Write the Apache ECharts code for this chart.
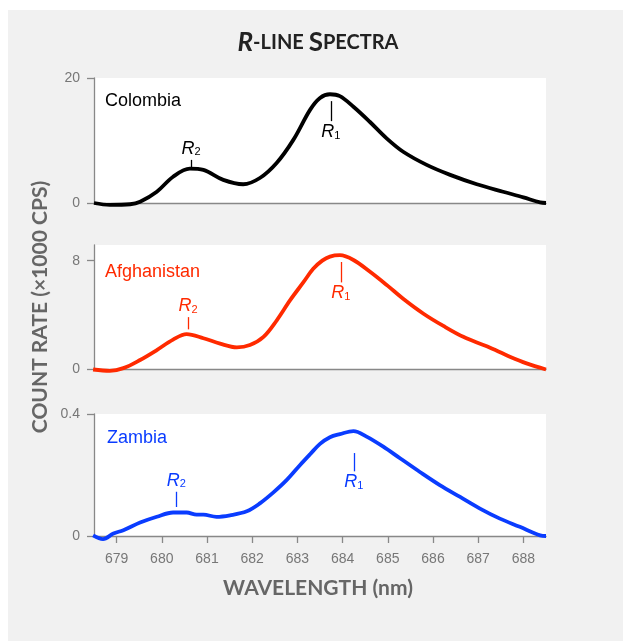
<!DOCTYPE html>
<html>
<head>
<meta charset="utf-8">
<script src="https://cdn.jsdelivr.net/npm/echarts@6/dist/echarts.min.js"></script>
<style>
html,body{margin:0;padding:0;background:#fff;}
#c{width:623px;height:641px;}
</style>
</head>
<body>
<div id="c"></div>
<script>
// ---- data ----
const colombiaX = [678.5, 678.85, 679.3, 679.52, 679.89, 680.25, 680.62, 680.92, 681.36, 681.8, 682.17, 682.54, 682.91, 683.28, 683.5, 683.72, 683.94, 684.24, 684.6, 684.98, 685.34, 685.86, 686.38, 686.97, 687.55, 688.0, 688.37, 688.5];
const colombiaY = [0, -0.3, -0.2, 0.2, 1.8, 4.2, 5.5, 5.3, 3.7, 3.0, 4.0, 6.4, 10.1, 14.9, 16.8, 17.4, 17.1, 15.4, 13.0, 10.3, 8.2, 6.1, 4.5, 3.0, 1.8, 0.9, 0.1, 0];

const afghanX = [678.48, 678.85, 679.15, 679.52, 679.89, 680.25, 680.55, 680.92, 681.29, 681.66, 681.95, 682.25, 682.54, 682.84, 683.13, 683.35, 683.55, 683.72, 683.94, 684.24, 684.6, 684.98, 685.34, 685.79, 686.23, 686.67, 687.19, 687.7, 688.07, 688.5];
const afghanY = [0, -0.1, 0.1, 0.7, 1.43, 2.2, 2.6, 2.3, 1.9, 1.63, 1.8, 2.4, 3.6, 5.1, 6.4, 7.4, 8.0, 8.3, 8.4, 8.05, 7.2, 6.2, 5.2, 4.1, 3.2, 2.4, 1.7, 0.94, 0.45, 0];

const zambiaX = [678.48, 678.7, 678.93, 679.15, 679.52, 679.89, 680.25, 680.55, 680.77, 680.92, 681.21, 681.51, 681.88, 682.17, 682.47, 682.76, 683.06, 683.28, 683.5, 683.72, 683.94, 684.24, 684.53, 684.9, 685.27, 685.71, 686.15, 686.6, 687.04, 687.48, 687.92, 688.37, 688.5];
const zambiaY = [0.002, -0.01, 0.008, 0.019, 0.044, 0.063, 0.077, 0.077, 0.07, 0.07, 0.063, 0.068, 0.081, 0.107, 0.143, 0.183, 0.233, 0.268, 0.302, 0.324, 0.334, 0.344, 0.326, 0.293, 0.255, 0.21, 0.167, 0.128, 0.09, 0.057, 0.03, 0.002, 0];

const xTicks = [679, 680, 681, 682, 683, 684, 685, 686, 687, 688];
const yTicksColombia = [0, 20];
const yTicksAfghan = [0, 8];
const yTicksZambia = [0, 0.4];

const panelNames = ['Colombia', 'Afghanistan', 'Zambia'];
const panelColors = ['#000000', '#ff2a00', '#0a3cff'];

// peak markers: [wavelength, tickStart, tickEnd] (label placed beyond tickEnd)
const r2Colombia = [680.65, 5.7, 6.9];
const r1Colombia = [683.74, 16.3, 13.1];
const r2Afghan = [680.58, 2.95, 3.85];
const r1Afghan = [683.96, 7.9, 6.4];
const r2Zambia = [680.32, 0.095, 0.145];
const r1Zambia = [684.25, 0.272, 0.212];

// ---- chart ----
const chart = echarts.init(document.getElementById('c'), null, {renderer: 'canvas'});
const FONT = 'Liberation Sans';
const AXC = '#888';
const LAB = '#777';

const grids = [
  {left: 94, top: 78, width: 452, height: 125},
  {left: 94, top: 245, width: 452, height: 124.5},
  {left: 94, top: 414, width: 452, height: 122}
].map(g => Object.assign(g, {show: true, backgroundColor: '#fff', borderWidth: 0, containLabel: false}));

function xAxis(i, bottom) {
  return {
    type: 'value', gridIndex: i, min: 678.5, max: 688.5,
    axisLine: {show: true, onZero: false, lineStyle: {color: AXC, width: 1.3}},
    axisTick: bottom ? {show: true, length: 7, customValues: xTicks, lineStyle: {color: AXC, width: 1.3}} : {show: false},
    axisLabel: bottom ? {show: true, customValues: xTicks, margin: 16, color: LAB, fontSize: 14, fontFamily: FONT} : {show: false},
    splitLine: {show: false}
  };
}
function yAxis(i, max, ticks, fmt) {
  return {
    type: 'value', gridIndex: i, min: 0, max: max,
    axisLine: {show: true, lineStyle: {color: AXC, width: 1.3}},
    axisTick: {show: true, length: 7, customValues: ticks, lineStyle: {color: AXC, width: 1.3}},
    axisLabel: {show: true, customValues: ticks, margin: 14, color: LAB, fontSize: 14, fontFamily: FONT, formatter: fmt},
    splitLine: {show: false}
  };
}

function zip(xs, ys) { return xs.map((x, k) => [x, ys[k]]); }

function peakLine(m, sub, color) {
  return [{coord: [m[0], m[1]], symbol: 'none'},
          {coord: [m[0], m[2]], symbol: 'none',
           label: {show: true, position: 'end', distance: 2, formatter: '{r|R}{s|' + sub + '}',
                   rich: {r: {fontSize: 18, fontStyle: 'italic', fontFamily: FONT, color: color},
                          s: {fontSize: 11, fontFamily: FONT, color: color, verticalAlign: 'bottom', lineHeight: 8}}}}];
}

function series(i, xs, ys, color, r2, r1) {
  return {
    type: 'line', xAxisIndex: i, yAxisIndex: i, data: zip(xs, ys),
    smooth: 0.35, showSymbol: false, clip: false,
    lineStyle: {color: color, width: 3.8},
    silent: true, animation: false,
    markLine: {
      silent: true, symbol: 'none', animation: false,
      lineStyle: {color: color, width: 1.3, type: 'solid'},
      data: [peakLine(r2, '2', color), peakLine(r1, '1', color)]
    }
  };
}

chart.setOption({
  animation: false,
  backgroundColor: '#fff',
  graphic: [
    {type: 'rect', shape: {x: 8, y: 10, width: 640, height: 640}, style: {fill: '#f1f1f1'}, z: -10},
    {type: 'text', x: 318, y: 43,
     style: {text: '{a|R}{b|-LINE }{c|S}{b|PECTRA}', align: 'center', verticalAlign: 'middle',
       rich: {a: {fontSize: 26, fontWeight: 'bold', fontStyle: 'italic', fontFamily: 'Lato', fill: '#222'},
              b: {fontSize: 20, fontWeight: 'bold', fontFamily: 'Lato', fill: '#222'},
              c: {fontSize: 26, fontWeight: 'bold', fontFamily: 'Lato', fill: '#222'}}}},
    {type: 'text', x: 40, y: 307, rotation: Math.PI / 2,
     style: {text: 'COUNT RATE (×1000 CPS)', fontSize: 21, fontWeight: 'bold', fontFamily: 'Lato', fill: '#666', align: 'center', verticalAlign: 'middle'}},
    {type: 'text', x: 318, y: 588,
     style: {text: 'WAVELENGTH (nm)', fontSize: 21, fontWeight: 'bold', fontFamily: 'Lato', fill: '#666', align: 'center', verticalAlign: 'middle'}},
    {type: 'text', x: 105, y: 101, style: {text: panelNames[0], fontSize: 18, fontFamily: FONT, fill: panelColors[0], verticalAlign: 'middle'}},
    {type: 'text', x: 105, y: 272, style: {text: panelNames[1], fontSize: 18, fontFamily: FONT, fill: panelColors[1], verticalAlign: 'middle'}},
    {type: 'text', x: 107, y: 438, style: {text: panelNames[2], fontSize: 18, fontFamily: FONT, fill: panelColors[2], verticalAlign: 'middle'}}
  ],
  grid: grids,
  xAxis: [xAxis(0, false), xAxis(1, false), xAxis(2, true)],
  yAxis: [
    yAxis(0, 20, yTicksColombia),
    yAxis(1, 9.15, yTicksAfghan),
    yAxis(2, 0.4, yTicksZambia, v => (v === 0 ? '0' : String(v)))
  ],
  series: [
    series(0, colombiaX, colombiaY, panelColors[0], r2Colombia, r1Colombia),
    series(1, afghanX, afghanY, panelColors[1], r2Afghan, r1Afghan),
    series(2, zambiaX, zambiaY, panelColors[2], r2Zambia, r1Zambia)
  ]
});
</script>
</body>
</html>
